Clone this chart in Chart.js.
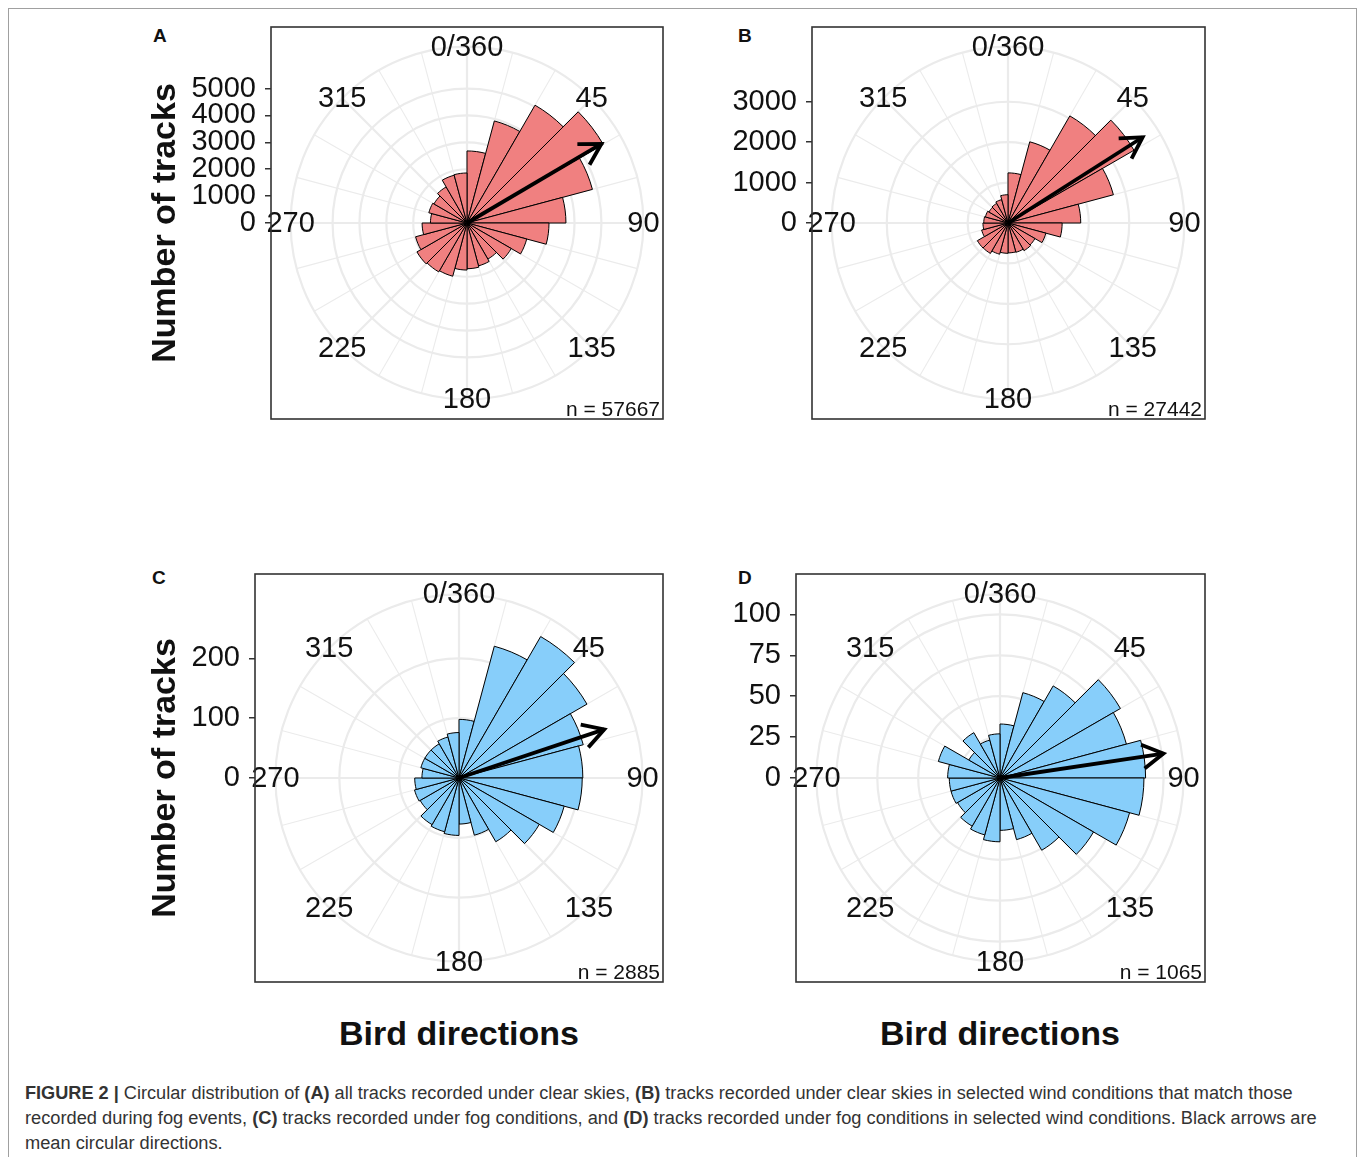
<!DOCTYPE html>
<html>
<head>
<meta charset="utf-8">
<script src="https://cdn.jsdelivr.net/npm/chart.js@4.4.1/dist/chart.umd.min.js"></script>
<style>
body { margin: 0; background: #fff; width: 1360px; height: 1157px; overflow: hidden; position: relative; font-family: "Liberation Sans", Arial, sans-serif; }
.frame { position: absolute; left: 8px; top: 8px; width: 1347px; height: 1170px; border: 1px solid #a0a0a0; }
canvas { position: absolute; }
.letter { position: absolute; font-weight: bold; font-size: 19px; line-height: 19px; color: #111; }
.xtitle { position: absolute; font-weight: bold; font-size: 34px; line-height: 40px; width: 400px; text-align: center; color: #111; }
.cap { position: absolute; left: 25px; font-size: 18px; line-height: 22px; color: #333; white-space: nowrap; transform-origin: 0 0; }
</style>
</head>
<body>
<div class="frame"></div>

<div class="letter" style="left:153px;top:26px">A</div>
<div class="letter" style="left:738px;top:26px">B</div>
<div class="letter" style="left:152px;top:568px">C</div>
<div class="letter" style="left:738px;top:568px">D</div>

<canvas id="roseA" width="530" height="412" style="left:141px;top:15px"></canvas>
<canvas id="roseB" width="483" height="412" style="left:730px;top:15px"></canvas>
<canvas id="roseC" width="530" height="428" style="left:141px;top:562px"></canvas>
<canvas id="roseD" width="483" height="428" style="left:730px;top:562px"></canvas>

<div class="xtitle" style="left:259px;top:1013px">Bird directions</div>
<div class="xtitle" style="left:800px;top:1013px">Bird directions</div>

<div class="cap" style="top:1082px"><b>FIGURE 2 |</b> Circular distribution of <b>(A)</b> all tracks recorded under clear skies, <b>(B)</b> tracks recorded under clear skies in selected wind conditions that match those</div>
<div class="cap" style="top:1107px">recorded during fog events, <b>(C)</b> tracks recorded under fog conditions, and <b>(D)</b> tracks recorded under fog conditions in selected wind conditions. Black arrows are</div>
<div class="cap" style="top:1132px">mean circular directions.</div>

<script>
// 15 degree bins, clockwise from north
const bins = ["0", "15", "30", "45", "60", "75", "90", "105", "120", "135", "150", "165",
	"180", "195", "210", "225", "240", "255", "270", "285", "300", "315", "330", "345"]

const countsA = [2680, 3930, 5060, 5850, 4830, 3680, 3050, 2300, 1900, 1550, 1650, 1700,
	1750, 2050, 2100, 2150, 1980, 1670, 1360, 1470, 1420, 1550, 1840, 1860]
const countsB = [1240, 2080, 3060, 3600, 2700, 1800, 1340, 970, 770, 790, 750, 740,
	750, 800, 870, 875, 675, 620, 600, 580, 545, 560, 600, 700]
const countsC = [98, 228, 273, 247, 215, 207, 206, 182, 155, 123, 99, 77,
	96, 93, 90, 75, 77, 74, 62, 66, 66, 66, 71, 76]
const countsD = [33, 54, 65, 85, 80, 89, 88, 82, 66, 51, 39, 32,
	39, 36, 34, 30, 31, 31, 32, 39, 22, 32, 24, 27]

const ticksA = [0, 1000, 2000, 3000, 4000, 5000]
const ticksB = [0, 1000, 2000, 3000]
const ticksC = [0, 100, 200]
const ticksD = [0, 25, 50, 75, 100]

const thetaBreaks = [0, 45, 90, 135, 180, 225, 270, 315]
const thetaLabels = ["0/360", "45", "90", "135", "180", "225", "270", "315"]

// mean circular direction (deg) and drawn length (tracks)
const arrowDirs = [59.5, 57.5, 71.5, 81.5]
const arrowLens = [5800, 3950, 256, 101]
const nLabels = ["n = 57667", "n = 27442", "n = 2885", "n = 1065"]
const rMax = [7290, 4850, 341, 124.7]

const clearColor = "#F08080"
const fogColor = "#87CEFA"
const gridColor = "#EBEBEB"
const family = "'Liberation Sans', Arial, sans-serif"

Chart.defaults.font.family = family

const roseDecor = {
	id: "roseDecor",
	beforeDatasetsDraw(chart, args, opts) {
		const r = chart.scales.r
		const ctx = chart.ctx
		const outer = r.getDistanceFromCenterForValue(opts.outer)
		ctx.save()
		ctx.strokeStyle = gridColor
		bins.forEach((b, i) => {
			const p = r.getPointPosition(i, outer)
			ctx.lineWidth = i % 3 === 0 ? 2.2 : 1.1
			ctx.beginPath()
			ctx.moveTo(r.xCenter, r.yCenter)
			ctx.lineTo(p.x, p.y)
			ctx.stroke()
		})
		ctx.restore()
	},
	afterDatasetsDraw(chart, args, opts) {
		const r = chart.scales.r
		const ctx = chart.ctx
		const area = chart.chartArea
		ctx.save()

		// mean direction arrow
		const rad = opts.dir * Math.PI / 180
		const tip = r.getPointPosition(0, r.getDistanceFromCenterForValue(opts.len), rad)
		const ang = Math.atan2(tip.y - r.yCenter, tip.x - r.xCenter)
		const head = 24
		const spread = Math.PI / 6
		ctx.strokeStyle = "#000"
		ctx.lineWidth = 3.8
		ctx.lineJoin = "miter"
		ctx.beginPath()
		ctx.moveTo(r.xCenter, r.yCenter)
		ctx.lineTo(tip.x, tip.y)
		ctx.stroke()
		ctx.beginPath()
		ctx.moveTo(tip.x - head * Math.cos(ang - spread), tip.y - head * Math.sin(ang - spread))
		ctx.lineTo(tip.x, tip.y)
		ctx.lineTo(tip.x - head * Math.cos(ang + spread), tip.y - head * Math.sin(ang + spread))
		ctx.stroke()

		// theta labels on the outer circle
		const outer = r.getDistanceFromCenterForValue(opts.outer)
		ctx.fillStyle = "#111"
		ctx.font = "29px " + family
		ctx.textAlign = "center"
		ctx.textBaseline = "middle"
		thetaBreaks.forEach((t, i) => {
			const p = r.getPointPosition(0, outer, t * Math.PI / 180)
			ctx.fillText(thetaLabels[i], p.x, p.y + 1)
		})

		// sample size
		ctx.font = "21px " + family
		ctx.textAlign = "right"
		ctx.textBaseline = "alphabetic"
		ctx.fillText(opts.n, area.right - 3, area.bottom - 3)

		// panel border
		ctx.strokeStyle = "#333"
		ctx.lineWidth = 1.6
		ctx.strokeRect(area.left, area.top, area.right - area.left, area.bottom - area.top)
		ctx.restore()
	}
}

function makeRose(id, k, counts, color, yTicks, yWidth, showTitle) {
	const max = rMax[k]
	return new Chart(document.getElementById(id), {
		type: "polarArea",
		data: {
			labels: bins,
			datasets: [{
				data: counts,
				backgroundColor: color,
				borderColor: "#000",
				borderWidth: 1
			}]
		},
		options: {
			responsive: false,
			animation: false,
			layout: { padding: { left: 0, top: 12, right: 8, bottom: 8 } },
			plugins: {
				legend: { display: false },
				tooltip: { enabled: false },
				roseDecor: { outer: max * 0.9, dir: arrowDirs[k], len: arrowLens[k], n: nLabels[k] }
			},
			scales: {
				r: {
					type: "radialLinear",
					min: 0,
					max: max,
					ticks: { display: false },
					pointLabels: { display: false },
					angleLines: { display: false },
					grid: {
						circular: true,
						lineWidth: 2.2,
						color: c => c.index === yTicks.length + 1 ? "rgba(0,0,0,0)" : gridColor
					},
					afterBuildTicks: s => { s.ticks = yTicks.concat([max * 0.9, max]).map(v => ({ value: v })) }
				},
				y: {
					type: "linear",
					position: "left",
					min: -max,
					max: max,
					afterBuildTicks: s => { s.ticks = yTicks.map(v => ({ value: v })) },
					afterFit: s => {
						s.width = yWidth
						s.paddingTop = 0
						s.paddingBottom = 0
					},
					grid: { drawOnChartArea: false, color: "#333", lineWidth: 1.5, tickLength: 6 },
					border: { display: false },
					ticks: {
						autoSkip: false,
						color: "#111",
						padding: 9,
						font: { size: 29 },
						callback: v => String(v)
					},
					title: {
						display: showTitle,
						text: "Number of tracks",
						color: "#111",
						font: { size: 34, weight: "bold" }
					}
				}
			}
		},
		plugins: [roseDecor]
	})
}

const roseA = makeRose("roseA", 0, countsA, clearColor, ticksA, 130, true)
const roseB = makeRose("roseB", 1, countsB, clearColor, ticksB, 82, false)
const roseC = makeRose("roseC", 2, countsC, fogColor, ticksC, 114, true)
const roseD = makeRose("roseD", 3, countsD, fogColor, ticksD, 66, false)

// squeeze caption lines to the width they take in the figure
const caps = document.querySelectorAll(".cap")
const targets = [1268, 1292]
let sx = 1
caps.forEach((el, i) => {
	if (i < targets.length) sx = targets[i] / el.scrollWidth
	el.style.transform = "scaleX(" + sx + ")"
})
</script>
</body>
</html>
